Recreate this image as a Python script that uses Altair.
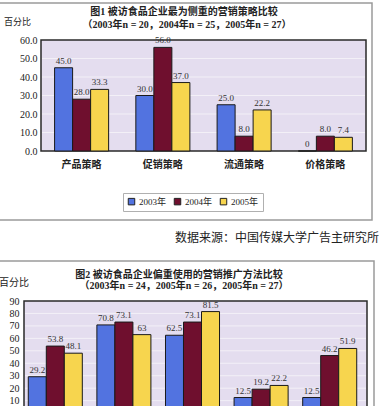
import altair as alt
import pandas as pd

FONT = "Liberation Serif, Noto Sans CJK SC"

years = ["2003年", "2004年", "2005年"]
colors = ["#5273e0", "#6f0f2e", "#f7d54e"]

# Figure 1
title1_l1 = "图1  被访食品企业最为侧重的营销策略比较"
title1_l2 = "（2003年n = 20，2004年n = 25，2005年n = 27）"
cats1 = ["产品策略", "促销策略", "流通策略", "价格策略"]
f1_2003 = [45.0, 30.0, 25.0, 0.0]
f1_2004 = [28.0, 56.0, 8.0, 8.0]
f1_2005 = [33.3, 37.0, 22.2, 7.4]
f1_lab2003 = ["45.0", "30.0", "25.0", "0"]
f1_lab2004 = ["28.0", "56.0", "8.0", "8.0"]
f1_lab2005 = ["33.3", "37.0", "22.2", "7.4"]
f1_ticks = [0, 10, 20, 30, 40, 50, 60]
f1_grid = [10, 20, 30, 40, 50]

source_text = "数据来源：中国传媒大学广告主研究所"
ylabel = "百分比"

# Figure 2 (lower part cut off in the reference)
title2_l1 = "图2  被访食品企业偏重使用的营销推广方法比较"
title2_l2 = "（2003年n = 24，2005年n = 26，2005年n = 27）"
cats2 = ["A", "B", "C", "D", "E"]
f2_2003 = [29.2, 70.8, 62.5, 12.5, 12.5]
f2_2004 = [53.8, 73.1, 73.1, 19.2, 46.2]
f2_2005 = [48.1, 63.0, 81.5, 22.2, 51.9]
f2_lab2003 = ["29.2", "70.8", "62.5", "12.5", "12.5"]
f2_lab2004 = ["53.8", "73.1", "73.1", "19.2", "46.2"]
f2_lab2005 = ["48.1", "63", "81.5", "22.2", "51.9"]
f2_ticks = [10, 20, 30, 40, 50, 60, 70, 80, 90]
f2_grid = [10, 20, 30, 40, 50, 60, 70, 80]


def make_df(cats, series, labels):
    rows = []
    for ci, c in enumerate(cats):
        for yr, vals, labs in zip(years, series, labels):
            rows.append({"cat": c, "year": yr, "val": vals[ci], "lab": labs[ci]})
    return pd.DataFrame(rows)


df1 = make_df(cats1, [f1_2003, f1_2004, f1_2005], [f1_lab2003, f1_lab2004, f1_lab2005])
df2 = make_df(cats2, [f2_2003, f2_2004, f2_2005], [f2_lab2003, f2_lab2004, f2_lab2005])
one = pd.DataFrame({"k": [0]})

PLOT_BG = "#e4ddef"
GRID = "#f3f0f7"
FRAME = "#9a9a9a"


def frame(x, x2, y, y2):
    return alt.Chart(one).mark_rect(filled=False, stroke=FRAME, strokeWidth=1.5,
                                    fill=None).encode(
        x=alt.value(x), x2=alt.value(x2), y=alt.value(y), y2=alt.value(y2))


def plot_bg(x, x2, y, y2):
    return alt.Chart(one).mark_rect(fill=PLOT_BG, stroke="#2a2a2a",
                                    strokeWidth=1.5).encode(
        x=alt.value(x), x2=alt.value(x2), y=alt.value(y), y2=alt.value(y2))


def label(txt, x, y, size, align="center", weight="normal"):
    return alt.Chart(one).mark_text(align=align, baseline="middle", fontSize=size,
                                    font=FONT, fontWeight=weight, color="#222").encode(
        x=alt.value(x), y=alt.value(y), text=alt.value(txt))


# ---------- top chart (group origin at page 23,40; plot box from page x 40) ----------
ysc1 = alt.Scale(domain=[0, 60], nice=False)
yax1 = alt.Axis(values=f1_ticks, format=".1f", domain=False, ticks=False,
                grid=False, offset=-17, labelPadding=4, labelFontSize=10,
                title=None)
x1 = alt.X("cat:N", sort=cats1,
           scale=alt.Scale(paddingInner=0.335, paddingOuter=0.272, align=0.692),
           axis=alt.Axis(title=None, labelAngle=0, domain=False, ticks=False,
                         labelPadding=8, labelFontSize=10, labelFontWeight="bold"))
xo1 = alt.XOffset("year:N", sort=years)
y1 = alt.Y("val:Q", scale=ysc1, axis=yax1)
c1 = alt.Color("year:N", sort=years, scale=alt.Scale(domain=years, range=colors),
               legend=alt.Legend(orient="none", legendX=99, legendY=153,
                                 direction="horizontal", title=None,
                                 symbolType="square", symbolSize=42,
                                 symbolStrokeColor="#222", symbolStrokeWidth=1,
                                 labelFontSize=9, labelOffset=3,
                                 columnPadding=5, padding=4,
                                 strokeColor="#b0b0b0", fillColor="white"))

grid1 = alt.Chart(pd.DataFrame({"t": f1_grid})).mark_rule(
    color=GRID, strokeWidth=1).encode(
    y=alt.Y("t:Q", scale=ysc1, axis=yax1), x=alt.value(18), x2=alt.value(341))
bars1 = alt.Chart(df1).mark_bar(stroke="#1a1a1a", strokeWidth=1).encode(
    x=x1, xOffset=xo1, y=y1, color=c1)
text1 = alt.Chart(df1).mark_text(baseline="bottom", dy=-2, fontSize=9, font=FONT,
                                 color="#333").encode(
    x=x1, xOffset=xo1, y=y1, text="lab:N")

top = alt.layer(
    plot_bg(17, 342, 0, 111),
    grid1, bars1, text1,
    frame(-27, 348, -37, 180),
    label(title1_l1, 160, -28, 10, weight="bold"),
    label(title1_l2, 163, -15, 10, weight="bold"),
    label(ylabel, -20, -18, 9, align="left"),
    label(source_text, 355, 198, 12, align="right"),
).properties(width=342, height=111)

# ---------- bottom chart (plot origin at page 23,301) ----------
ysc2 = alt.Scale(domain=[5.7, 90], nice=False, zero=False)
yax2 = alt.Axis(values=f2_ticks, format="d", domain=False, ticks=False,
                grid=False, labelPadding=5, labelFontSize=10, title=None)
x2 = alt.X("cat:N", sort=cats2,
           scale=alt.Scale(paddingInner=0.125, paddingOuter=0.0625), axis=None)
xo2 = alt.XOffset("year:N", sort=years)
y2 = alt.Y("val:Q", scale=ysc2, axis=yax2)
c2 = alt.Color("year:N", sort=years, scale=alt.Scale(domain=years, range=colors),
               legend=None)

grid2 = alt.Chart(pd.DataFrame({"t": f2_grid})).mark_rule(
    color=GRID, strokeWidth=1).encode(
    y=alt.Y("t:Q", scale=ysc2, axis=yax2), x=alt.value(1), x2=alt.value(342))
bars2 = alt.Chart(df2).mark_bar(stroke="#1a1a1a", strokeWidth=1, clip=True).encode(
    x=x2, xOffset=xo2, y=y2, color=c2)
text2 = alt.Chart(df2).mark_text(baseline="bottom", dy=-2, fontSize=9, font=FONT,
                                 color="#333").encode(
    x=x2, xOffset=xo2, y=y2, text="lab:N")

bottom = alt.layer(
    plot_bg(0, 343, 0, 112),
    grid2, bars2, text2,
    frame(-27, 350, -40, 130),
    label(title2_l1, 155, -26, 10, weight="bold"),
    label(title2_l2, 160, -15, 10, weight="bold"),
    label(ylabel, -25, -18, 10, align="left"),
).properties(width=343, height=105)

chart = alt.concat(top, bottom, columns=1, spacing=16).properties(
    padding={"left": -4, "top": 2, "right": 0, "bottom": 0},
    background="white",
).configure_view(
    fill=None, stroke=None
).configure_axis(
    labelFont=FONT, titleFont=FONT, labelColor="#222", titleColor="#222"
).configure_legend(
    labelFont=FONT, labelColor="#222"
)

chart.save("out.html", embed_options={"renderer": "svg", "actions": False})
